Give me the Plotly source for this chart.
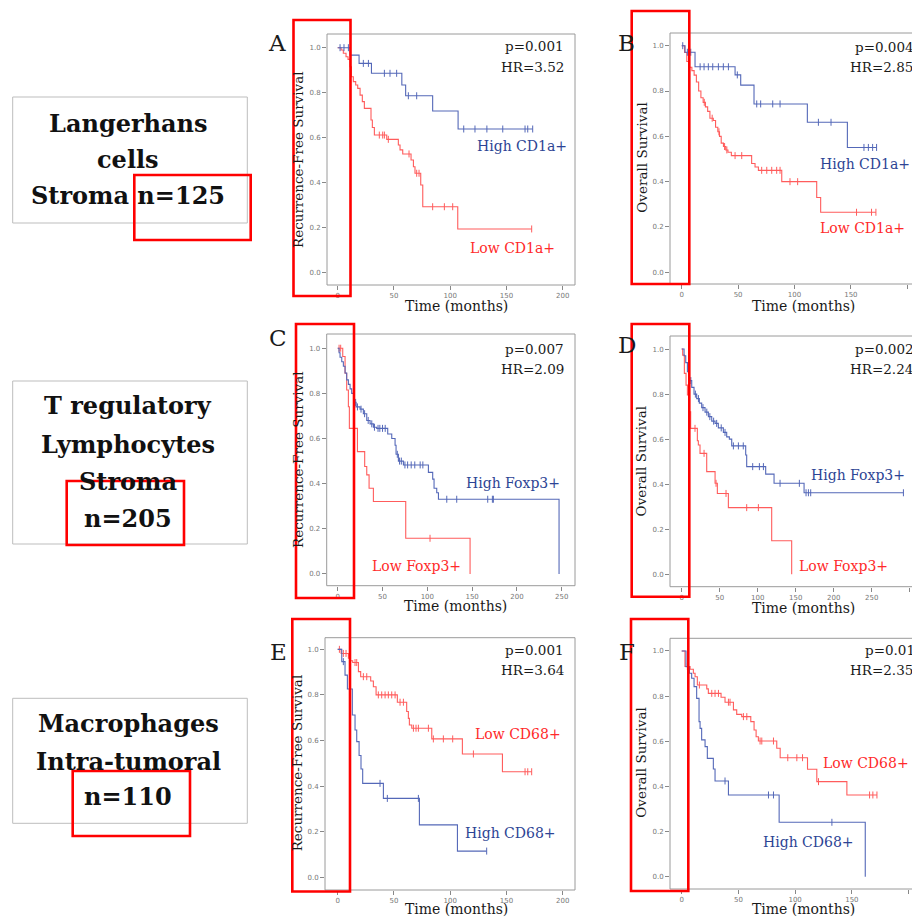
import plotly.graph_objects as go

W, H = 912, 917

# ---------------- data (months, survival) ----------------
A_high_t = [0, 11, 19, 30, 57, 60.4, 84.4, 107]
A_high_s = [1.0, 0.967, 0.930, 0.886, 0.834, 0.786, 0.718, 0.638]
A_high_c = [2.1, 5.6, 9.5, 22.8, 27.3, 41.5, 46.5, 52.4, 62.8, 70.2, 112, 122, 132.6, 146.7, 166.5, 168.9, 173.3]
A_low_t = [0, 3, 5, 7.4, 9.2, 11, 12.2, 13.9, 16, 17.8, 19.9, 21.9, 23.7, 29.6, 30.8, 32.6, 43.6, 53.9, 55.4, 57.8, 65.2, 67.3, 68.7, 73.8, 75.6, 106.7]
A_low_s = [1.0, 0.990, 0.975, 0.960, 0.948, 0.915, 0.871, 0.849, 0.834, 0.819, 0.789, 0.760, 0.730, 0.678, 0.645, 0.611, 0.592, 0.567, 0.545, 0.527, 0.500, 0.470, 0.441, 0.389, 0.292, 0.193]
A_low_c = [37.0, 40.0, 41.5, 45.0, 63.4, 70.2, 72.3, 84.4, 94.8, 102.2, 172.4]

B_high_t = [0, 2.95, 11.8, 47.3, 52.3, 64.1, 111.4, 146.9]
B_high_s = [1.0, 0.971, 0.907, 0.871, 0.826, 0.743, 0.662, 0.551]
B_high_c = [0.9, 5.0, 8.0, 16.3, 19.8, 23.6, 27.5, 32.5, 36.9, 41.4, 49.3, 66.5, 70.0, 80.7, 87.2, 121.2, 132.4, 161.6, 165.5, 169.3, 172.8]
B_low_t = [0, 2.5, 4.5, 6.5, 9, 11, 13, 15, 17, 19, 21, 23, 25, 28, 30, 32, 33.5, 35, 37, 39, 41, 44, 62, 65, 68, 88.7, 119.7, 123.2]
B_low_s = [1.0, 0.97, 0.93, 0.905, 0.89, 0.87, 0.84, 0.80, 0.77, 0.75, 0.73, 0.71, 0.68, 0.67, 0.64, 0.62, 0.60, 0.57, 0.555, 0.54, 0.53, 0.515, 0.48, 0.465, 0.45, 0.40, 0.33, 0.265]
B_low_c = [20, 27, 33, 38, 40, 47.3, 53.2, 70.9, 75.4, 79.8, 84.2, 87.2, 96, 102.8, 155, 168.3, 172.2]

C_high_t = [0, 1.5, 2.6, 4.5, 6.3, 8.2, 10, 11.9, 13.8, 15.6, 18.2, 20.5, 24.9, 28.6, 32.4, 36.1, 39.8, 43.5, 55.8, 60.3, 64, 65.1, 67.7, 73.3, 101.2, 106, 107.5, 110.5, 112.4, 247]
C_high_s = [1.0, 0.98, 0.96, 0.94, 0.92, 0.89, 0.86, 0.84, 0.82, 0.80, 0.76, 0.74, 0.73, 0.71, 0.68, 0.665, 0.65, 0.645, 0.62, 0.60, 0.57, 0.53, 0.50, 0.483, 0.45, 0.42, 0.38, 0.36, 0.331, 0.0]
C_high_c = [20, 22, 26, 30, 34, 38, 41, 45, 47, 50, 53, 66.5, 69, 71, 75, 78, 82, 86, 92, 95, 121.7, 132.8, 167.4, 172.6, 173.7]
C_low_t = [0, 5.6, 8.2, 10, 11.9, 13, 22, 30.1, 32.4, 35, 39.8, 75.9, 147.7]
C_low_s = [1.0, 0.963, 0.889, 0.815, 0.741, 0.645, 0.542, 0.476, 0.439, 0.380, 0.321, 0.158, 0.0]
C_low_c = [1.5, 3.3, 103]

D_high_t = [0, 3.1, 5.3, 7.5, 10.1, 13.2, 16.2, 19.7, 23.2, 26.3, 30.7, 35.1, 39.5, 43.9, 48.2, 54.8, 59.2, 62.7, 65.8, 84.2, 85.5, 110.5, 121.5, 161]
D_high_s = [1.0, 0.97, 0.94, 0.90, 0.86, 0.83, 0.80, 0.78, 0.76, 0.74, 0.72, 0.70, 0.68, 0.67, 0.65, 0.63, 0.61, 0.60, 0.57, 0.53, 0.478, 0.445, 0.404, 0.362]
D_high_c = [12, 18, 22, 28, 33, 37, 42, 46, 52, 57, 68, 74.6, 81, 93.4, 102.2, 107.5, 129.4, 154.8, 163.6, 166.7, 169.7, 291.7]
D_low_t = [0, 1.3, 3.5, 5.7, 7.5, 10.1, 11.8, 20.6, 21.9, 24.1, 32.9, 43.9, 46.9, 61.4, 118.4, 144.7]
D_low_s = [1.0, 0.973, 0.892, 0.840, 0.796, 0.722, 0.648, 0.593, 0.574, 0.537, 0.456, 0.404, 0.359, 0.296, 0.149, 0.0]
D_low_c = [17.5, 29.4, 45.2, 58.3, 85.5, 100.9]

E_low_t = [0, 3.0, 9.5, 11, 13.3, 18.4, 20.4, 29.3, 31.7, 34.1, 53, 61.3, 62.8, 63.7, 65.8, 83.6, 110.8, 146.4]
E_low_s = [1.0, 0.982, 0.961, 0.95, 0.942, 0.902, 0.880, 0.861, 0.836, 0.800, 0.768, 0.727, 0.697, 0.668, 0.654, 0.607, 0.541, 0.463]
E_low_c = [1.5, 5, 7.4, 15.4, 16.9, 22.8, 25.8, 36.1, 39.1, 42.1, 45, 48, 51, 55.4, 58.4, 67.3, 69.6, 71.7, 80.6, 85, 93.9, 102.2, 120.6, 166.5, 168.9, 172.4]
E_high_t = [0, 3.6, 6.5, 8.6, 13, 15.4, 16.9, 19, 20.7, 22.2, 40.6, 72.6, 106.4]
E_high_s = [1.0, 0.946, 0.887, 0.826, 0.712, 0.646, 0.595, 0.534, 0.475, 0.412, 0.346, 0.230, 0.115]
E_high_c = [5, 37.6, 44.1, 71.7, 132.4]

F_low_t = [0, 2.9, 7.4, 10.3, 11.8, 13.8, 22.1, 23.5, 34.7, 38.2, 45.6, 48.5, 52.9, 60.9, 63.8, 65.6, 67.6, 83.8, 86.8, 110.9, 119.1, 145.6]
F_low_s = [1.0, 0.931, 0.919, 0.901, 0.886, 0.849, 0.832, 0.812, 0.795, 0.773, 0.739, 0.719, 0.709, 0.687, 0.650, 0.620, 0.601, 0.569, 0.527, 0.476, 0.421, 0.362]
F_low_c = [5, 15.6, 26.5, 29.4, 32.4, 41.2, 42.6, 54.4, 57.4, 69.1, 70.6, 80.9, 93.5, 101.5, 106.5, 120.6, 165.6, 168.5, 172.1]
F_high_t = [0, 3.8, 6.8, 8.8, 10.9, 13.2, 15.3, 16.2, 17.6, 20.6, 22.6, 27.9, 29.4, 41.2, 85.9, 161.8]
F_high_s = [1.0, 0.93, 0.901, 0.879, 0.842, 0.790, 0.687, 0.657, 0.606, 0.576, 0.524, 0.477, 0.424, 0.362, 0.241, 0.0]
F_high_c = [38.2, 76.5, 80.9, 132.4]

panel_letters = ["A", "B", "C", "D", "E", "F"]
y_titles = ["Recurrence-Free Survival", "Overall Survival"] * 3
p_texts = ["p=0.001", "p=0.004", "p=0.007", "p=0.002", "p=0.001", "p=0.01"]
hr_texts = ["HR=3.52", "HR=2.85", "HR=2.09", "HR=2.24", "HR=3.64", "HR=2.35"]
high_labels = ["High CD1a+", "High CD1a+", "High Foxp3+", "High Foxp3+", "High CD68+", "High CD68+"]
low_labels = ["Low CD1a+", "Low CD1a+", "Low Foxp3+", "Low Foxp3+", "Low CD68+", "Low CD68+"]
x_ticks = [[0, 50, 100, 150, 200], [0, 50, 100, 150, 200], [0, 50, 100, 150, 200, 250],
           [0, 50, 100, 150, 200, 250, 300], [0, 50, 100, 150, 200], [0, 50, 100, 150, 200]]
y_ticks = [0.0, 0.2, 0.4, 0.6, 0.8, 1.0]
box_lines = [["Langerhans", "cells", "Stroma n=125"],
             ["T regulatory", "Lymphocytes", "Stroma", "n=205"],
             ["Macrophages", "Intra-tumoral", "n=110"]]

series = [
    (A_high_t, A_high_s, A_high_c, A_low_t, A_low_s, A_low_c),
    (B_high_t, B_high_s, B_high_c, B_low_t, B_low_s, B_low_c),
    (C_high_t, C_high_s, C_high_c, C_low_t, C_low_s, C_low_c),
    (D_high_t, D_high_s, D_high_c, D_low_t, D_low_s, D_low_c),
    (E_high_t, E_high_s, E_high_c, E_low_t, E_low_s, E_low_c),
    (F_high_t, F_high_s, F_high_c, F_low_t, F_low_s, F_low_c),
]

# ---------------- layout geometry (pixels) ----------------
def X(px):
    return px / W

def Y(py):
    return 1 - py / H

# frame: left, top, right, bottom ; x-range ; y-range
frames = [
    (327, 34, 575, 285, [-9.5, 210.9], [-0.0565, 1.061]),
    (670, 33, 918, 284, [-10.4, 204.2], [-0.0516, 1.056]),
    (326.7, 334, 575, 585.7, [-12.3, 264.8], [-0.052, 1.063]),
    (670, 336, 918, 586.7, [-15.4, 303], [-0.055, 1.058]),
    (325, 637.7, 575, 890, [-11.3, 210.9], [-0.0557, 1.051]),
    (670, 638.3, 918, 889, [-10.3, 203], [-0.0545, 1.056]),
]

BLUE_LINE = "#5468b8"
RED_LINE = "#ff5c5c"
BLUE_TXT = "#2d4494"
RED_TXT = "#ff2a2a"
SERIF = "DejaVu Serif"

fig = go.Figure()
shapes = []
annotations = []


def step_xy(t, s, c):
    xs, ys = list(t), list(s)
    if c and max(c) > t[-1]:
        xs.append(max(c))
        ys.append(s[-1])
    return xs, ys


def surv_at(t, s, c):
    out = []
    for ci in c:
        v = s[0]
        for ti, si in zip(t, s):
            if ti <= ci:
                v = si
        out.append(v)
    return out


for i, (ht, hs, hc, lt, ls, lc) in enumerate(series):
    ax = "" if i == 0 else str(i + 1)
    l, t, r, b, xr, yr = frames[i]
    for tt, ss, cc, col in [(lt, ls, lc, RED_LINE), (ht, hs, hc, BLUE_LINE)]:
        xs, ys = step_xy(tt, ss, cc)
        fig.add_trace(go.Scatter(x=xs, y=ys, mode="lines", line=dict(color=col, width=1.1, shape="hv"),
                                 xaxis="x" + ax, yaxis="y" + ax, showlegend=False, hoverinfo="skip"))
        fig.add_trace(go.Scatter(x=cc, y=surv_at(tt, ss, cc), mode="markers",
                                 marker=dict(symbol="line-ns-open", size=5, color=col,
                                             line=dict(color=col, width=1)),
                                 xaxis="x" + ax, yaxis="y" + ax, showlegend=False, hoverinfo="skip"))
    xd = [X(l), min(1.0, X(r))]
    yd = [Y(b), Y(t)]
    common = dict(showgrid=False, zeroline=False, showline=False, ticks="outside", ticklen=4,
                  tickwidth=1, tickcolor="#888", tickfont=dict(family="DejaVu Sans", size=7, color="#777"))
    fig.update_layout(**{
        "xaxis" + ax: dict(domain=xd, range=xr, tickvals=x_ticks[i], anchor="y" + ax, **common),
        "yaxis" + ax: dict(domain=yd, range=yr, tickvals=y_ticks, tickformat=".1f", anchor="x" + ax, **common),
    })
    shapes.append(dict(type="rect", xref="paper", yref="paper", x0=X(l), x1=X(r), y0=Y(b), y1=Y(t),
                       line=dict(color="#9a9a9a", width=1)))

# ---------------- annotations ----------------
def ann(text, x, y, size, color="#1a1a1a", xanchor="center", angle=0, bold=False, family=SERIF):
    annotations.append(dict(text=("<b>%s</b>" % text) if bold else text, x=X(x), y=Y(y), xref="paper", yref="paper",
                            xanchor=xanchor, yanchor="middle", showarrow=False, textangle=angle,
                            font=dict(family=family, size=size, color=color)))

letter_pos = [(277, 43), (626.7, 42.7), (278.3, 338.3), (626.7, 345), (278.3, 651.7), (626.7, 651.7)]
ytitle_pos = [(298, 160), (641.7, 158), (298, 460), (640.7, 461.7), (297.3, 763), (640.7, 763)]
xtitle_pos = [(456.7, 306), (803.3, 306), (455.8, 606), (803.3, 607.5), (456.7, 909), (803.3, 909)]
# (x, anchor, y_p, y_hr) ; B/D/F are cut on the right so anchored left
p_pos = [((566, "right"), (566, "right"), 46, 66.7), ((853.3, "left"), (848.3, "left"), 46.7, 66.7),
         ((566, "right"), (566, "right"), 349.3, 369.3), ((853.3, "left"), (848.3, "left"), 349.3, 369.3),
         ((566, "right"), (566, "right"), 650, 670), ((863.3, "left"), (848.3, "left"), 650, 670)]
high_pos = [(475, 146), (818.3, 164), (464, 482.7), (809.3, 475.3), (462.7, 833.3), (761, 841.7)]
low_pos = [(468.3, 247.7), (818.3, 228.3), (370, 566), (796.7, 565.7), (473.3, 734.3), (820.7, 763.3)]

for i in range(6):
    ann(panel_letters[i], letter_pos[i][0], letter_pos[i][1], 23)
    ann(y_titles[i], ytitle_pos[i][0], ytitle_pos[i][1], 13.5, angle=-90)
    ann("Time (months)", xtitle_pos[i][0], xtitle_pos[i][1], 14)
    (px_, pa), (hx, ha), py_, hy = p_pos[i]
    ann(p_texts[i], px_, py_, 13.5, xanchor=pa)
    ann(hr_texts[i], hx, hy, 13.5, xanchor=ha)
    ann(high_labels[i], high_pos[i][0], high_pos[i][1], 14, color=BLUE_TXT, xanchor="left")
    ann(low_labels[i], low_pos[i][0], low_pos[i][1], 14, color=RED_TXT, xanchor="left")

# left boxes
boxes = [(12.7, 97, 247.3, 223), (12.7, 381, 247.3, 544), (12.7, 698.3, 247.3, 823.3)]
box_line_y = [[123, 160, 195], [405, 445, 481.7, 518.3], [723.3, 761.7, 796.7]]
for bi, (l, t, r, b) in enumerate(boxes):
    shapes.append(dict(type="rect", xref="paper", yref="paper", x0=X(l), x1=X(r), y0=Y(b), y1=Y(t),
                       line=dict(color="#bdbdbd", width=1)))
    for line_text, ly in zip(box_lines[bi], box_line_y[bi]):
        ann(line_text, 128, ly, 24, color="#111", bold=True)

# red highlight rectangles
red_rects = [(134.3, 175, 250.7, 240), (66.7, 481, 184, 545), (72.7, 771, 190, 836),
             (293.5, 20, 350.5, 296), (631.7, 11, 689.3, 284),
             (296, 324, 354, 598), (631.7, 324, 689.3, 596.7),
             (292.3, 619, 350, 891.5), (631, 619, 688.3, 891)]
for l, t, r, b in red_rects:
    shapes.append(dict(type="rect", xref="paper", yref="paper", x0=X(l), x1=X(r), y0=Y(b), y1=Y(t),
                       line=dict(color="#ff0000", width=2.6)))

fig.update_layout(width=W, height=H, margin=dict(l=0, r=0, t=0, b=0), paper_bgcolor="white",
                  plot_bgcolor="white", shapes=shapes, annotations=annotations, showlegend=False)

fig.write_html("out.html", config={"displayModeBar": False, "staticPlot": True},
               post_script="document.body.style.margin='0';document.body.style.padding='0';"
                           "document.body.style.overflow='hidden';")
